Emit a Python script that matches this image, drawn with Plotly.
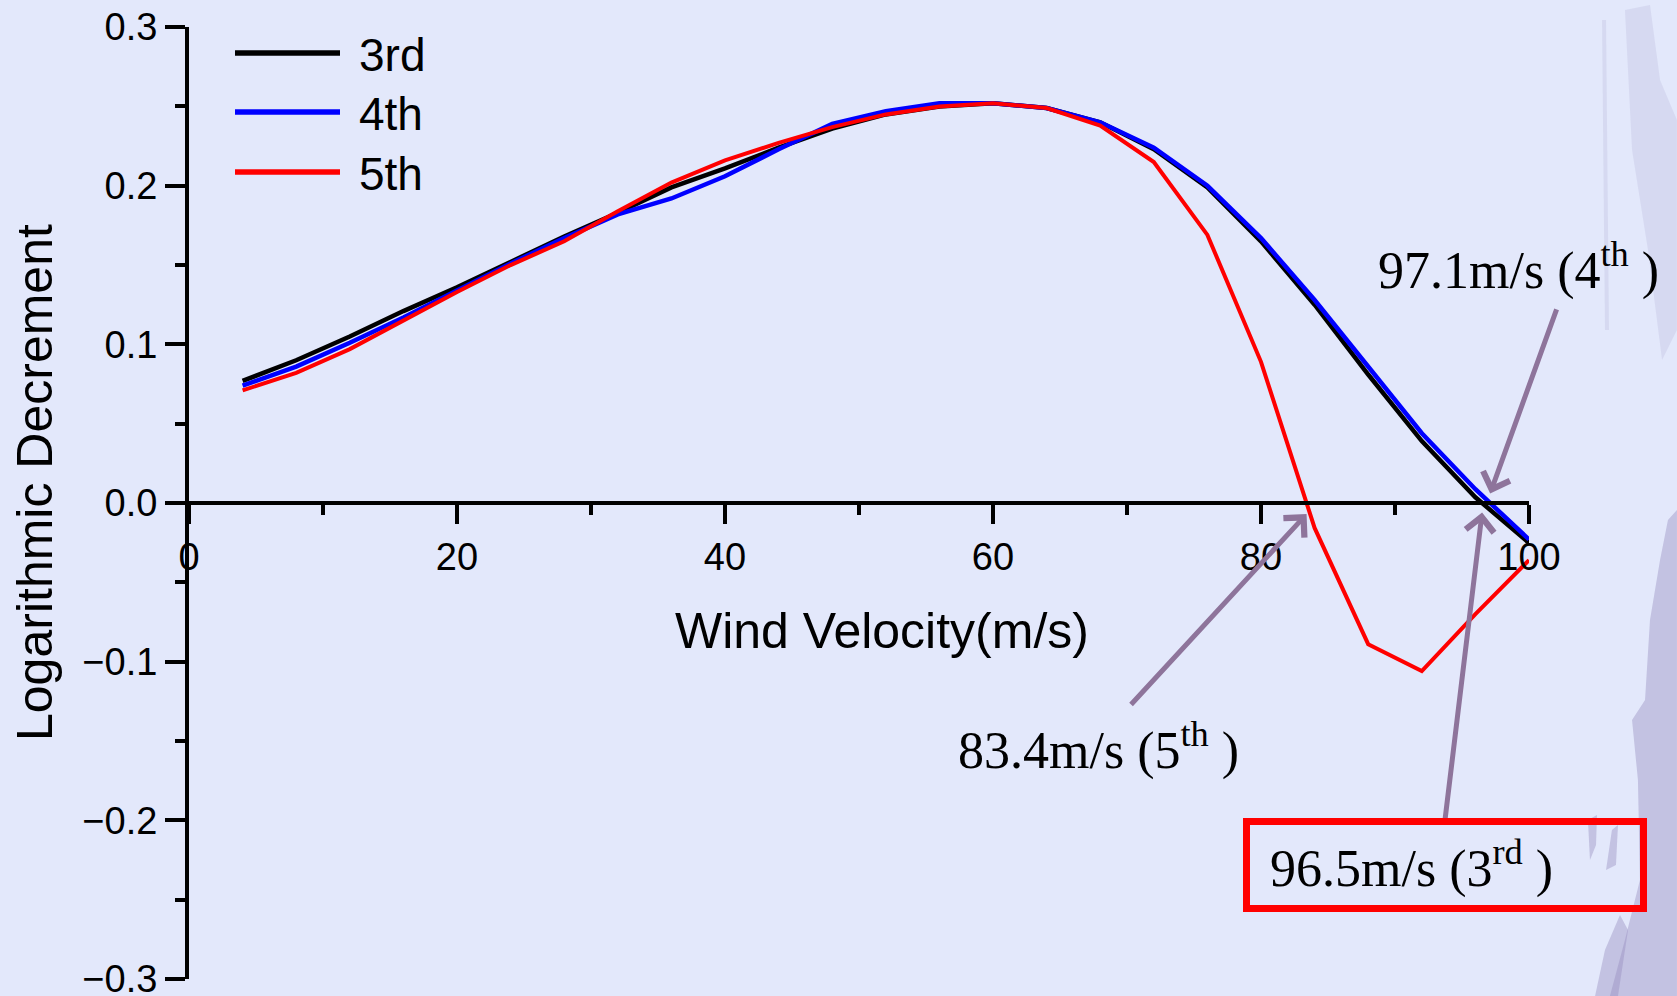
import plotly.graph_objects as go

# Wind velocity steps (m/s) and logarithmic decrement of each flutter mode
wind_velocity = [4, 8, 12, 16, 20, 24, 28, 32, 36, 40, 44, 48, 52,
                 56, 60, 64, 68, 72, 76, 80, 84, 88, 92, 96, 100]

decrement_3rd = [0.077, 0.090, 0.105, 0.121, 0.136, 0.152, 0.168, 0.183, 0.199,
                 0.211, 0.224, 0.236, 0.245, 0.250, 0.252, 0.249, 0.240, 0.223,
                 0.199, 0.165, 0.125, 0.081, 0.039, 0.0036, -0.0252]
decrement_4th = [0.074, 0.086, 0.101, 0.117, 0.134, 0.151, 0.167, 0.182, 0.192,
                 0.206, 0.223, 0.239, 0.247, 0.252, 0.252, 0.249, 0.240, 0.224,
                 0.200, 0.167, 0.128, 0.086, 0.044, 0.0087, -0.023]
decrement_5th = [0.071, 0.082, 0.097, 0.115, 0.133, 0.150, 0.165, 0.184, 0.202,
                 0.216, 0.227, 0.237, 0.245, 0.250, 0.252, 0.249, 0.238, 0.215,
                 0.169, 0.089, -0.0157, -0.089, -0.106, -0.070, -0.036]

mode_names = ["3rd", "4th", "5th"]
mode_colors = ["#000000", "#0000FF", "#FF0000"]
mode_widths = [4.5, 4.5, 4]
mode_series = [decrement_3rd, decrement_4th, decrement_5th]

# Critical (flutter onset) velocities where the decrement crosses zero
onset_modes = ["4th", "5th", "3rd"]
onset_speeds = [97.1, 83.4, 96.5]

x_ticks = [0, 20, 40, 60, 80, 100]
y_ticks = [-0.3, -0.2, -0.1, 0.0, 0.1, 0.2, 0.3]

BG = "#E3E8FB"
ARROW = "#8E749B"
SANS = "Liberation Sans, Arial, sans-serif"
SERIF = "Liberation Serif, Times New Roman, serif"

W, H = 1677, 996
M_L, M_R, M_T, M_B = 189, 148, 27, 17
PW, PH = W - M_L - M_R, H - M_T - M_B


def px_to_paper(px, py):
    return (px - M_L) / PW, (H - M_B - py) / PH


fig = go.Figure()

for name, color, width, values in zip(mode_names, mode_colors, mode_widths, mode_series):
    fig.add_trace(go.Scatter(
        x=wind_velocity, y=values, mode="lines", name=name,
        line=dict(color=color, width=width), showlegend=False,
    ))

shapes = []
annotations = []

# Faint brush-stroke texture along the right edge
STROKE_LIGHT = "rgba(165,160,205,0.20)"
STROKE_DARK = "rgba(150,140,190,0.42)"
stroke_polys = [
    ([(1625, 10), (1650, 5), (1660, 80), (1677, 120), (1677, 330),
      (1662, 360), (1648, 250), (1632, 150)], STROKE_LIGHT),
    ([(1602, 20), (1606, 20), (1609, 330), (1605, 330)], STROKE_LIGHT),
    ([(1668, 520), (1677, 510), (1677, 996), (1610, 996), (1625, 940),
      (1640, 880), (1638, 780), (1632, 720), (1645, 700), (1650, 620),
      (1660, 560)], STROKE_DARK),
    ([(1588, 820), (1597, 815), (1596, 845), (1590, 860)], STROKE_DARK),
    ([(1612, 830), (1618, 825), (1616, 865), (1606, 870)], STROKE_DARK),
    ([(1595, 996), (1605, 950), (1620, 915), (1628, 930), (1618, 996)],
     STROKE_DARK),
]
for pts, fill in stroke_polys:
    conv = [px_to_paper(px, py) for px, py in pts]
    path = "M" + " L".join(f"{a:.4f},{b:.4f}" for a, b in conv) + " Z"
    shapes.append(dict(type="path", xref="paper", yref="paper", path=path,
                       fillcolor=fill, line=dict(width=0), layer="below"))

# Legend: long line samples with labels, top-left of the plot
legend_rows_py = [53, 112, 172]
for name, color, py in zip(mode_names, mode_colors, legend_rows_py):
    x0, y0 = px_to_paper(235, py)
    x1, _ = px_to_paper(340, py)
    shapes.append(dict(type="line", xref="paper", yref="paper",
                       x0=x0, x1=x1, y0=y0, y1=y0,
                       line=dict(color=color, width=5.5)))
    tx, ty = px_to_paper(357, py + 2)
    annotations.append(dict(xref="paper", yref="paper", x=tx, y=ty,
                            text=name, showarrow=False, xanchor="left",
                            yanchor="middle",
                            font=dict(family=SANS, size=46, color="black")))

# Axis titles
tx, ty = px_to_paper(882, 631)
annotations.append(dict(xref="paper", yref="paper", x=tx, y=ty,
                        text="Wind Velocity(m/s)", showarrow=False,
                        xanchor="center", yanchor="middle",
                        font=dict(family=SANS, size=50, color="black")))
tx, ty = px_to_paper(35, 483)
annotations.append(dict(xref="paper", yref="paper", x=tx, y=ty,
                        text="Logarithmic Decrement", showarrow=False,
                        textangle=-90, xanchor="center", yanchor="middle",
                        font=dict(family=SANS, size=50, color="black")))

# Onset arrows (tail position, then tip at the zero crossing)
arrow_tails = {"4th": (102.1, 0.123), "5th": (70.2, -0.128), "3rd": (93.7, -0.202)}
arrow_tip_y = {"4th": 0.006, "5th": -0.007, "3rd": -0.006}
label_pos = {"4th": (99.2, 0.149), "5th": (67.9, -0.154), "3rd": (93.75, -0.228)}

for mode, speed in zip(onset_modes, onset_speeds):
    ax, ay = arrow_tails[mode]
    annotations.append(dict(
        x=speed, y=arrow_tip_y[mode], xref="x", yref="y",
        ax=ax, ay=ay, axref="x", ayref="y", text="",
        showarrow=True, arrowhead=4, arrowsize=1.1, arrowwidth=5,
        arrowcolor=ARROW, standoff=0, startstandoff=0,
    ))
    num, suffix = mode[:-2], mode[-2:]
    text = f"{speed}m/s ({num}<sup>{suffix}</sup> )"
    lx, ly = label_pos[mode]
    ann = dict(x=lx, y=ly, xref="x", yref="y", text=text, showarrow=False,
               xanchor="center", yanchor="middle",
               font=dict(family=SERIF, size=52, color="black"))
    if mode == "3rd":
        ann.update(bordercolor="#FF0000", borderwidth=7, borderpad=7,
                   width=376, align="left", text="\u00a0" + text)
    annotations.append(ann)

fig.update_layout(
    template="none",
    width=W, height=H,
    margin=dict(l=M_L, r=M_R, t=M_T, b=M_B, pad=0, autoexpand=False),
    paper_bgcolor=BG, plot_bgcolor=BG,
    showlegend=False,
    shapes=shapes,
    annotations=annotations,
    xaxis=dict(
        range=[0, 100], anchor="free", position=0.5, side="bottom",
        tickvals=x_ticks, ticks="outside", ticklen=19, tickwidth=3.5,
        tickcolor="black", showline=True, linewidth=4, linecolor="black",
        showgrid=False, zeroline=False, automargin=False,
        ticklabeloverflow="allow",
        tickfont=dict(family=SANS, size=38, color="black"),
        minor=dict(ticks="outside", ticklen=10, tickwidth=3.5,
                   tickcolor="black", dtick=10, showgrid=False),
    ),
    yaxis=dict(
        range=[-0.3001, 0.3001], tickvals=y_ticks, tickformat=".1f",
        ticks="outside", ticklen=20, tickwidth=3.5, tickcolor="black",
        showline=True, linewidth=4, linecolor="black",
        showgrid=False, zeroline=False, automargin=False,
        ticklabeloverflow="allow",
        tickfont=dict(family=SANS, size=38, color="black"),
        minor=dict(ticks="outside", ticklen=10, tickwidth=3.5,
                   tickcolor="black", dtick=0.05, tick0=0, showgrid=False),
    ),
)

fig.write_html("out.html")
